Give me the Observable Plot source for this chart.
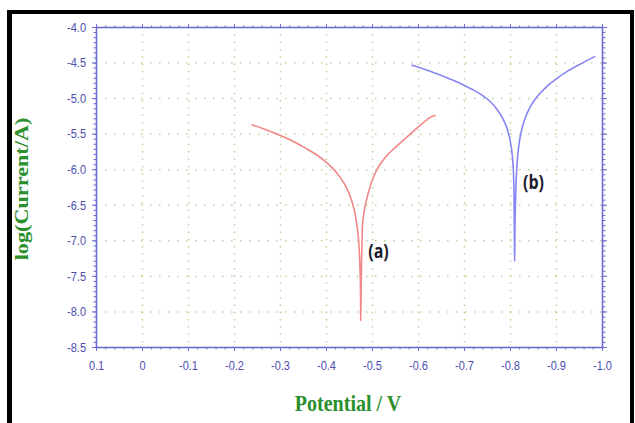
<!DOCTYPE html>
<html><head><meta charset="utf-8">
<script src="https://cdn.jsdelivr.net/npm/d3@7"></script>
<script src="https://cdn.jsdelivr.net/npm/@observablehq/plot@0.6"></script>
<style>
html,body{margin:0;padding:0;background:#fff;}
#wrap{position:relative;width:635px;height:423px;overflow:hidden;background:#fff;}
#border{position:absolute;left:7px;top:10px;width:618px;height:430px;border-left:5px solid #000;border-top:4px solid #000;border-right:4px solid #000;pointer-events:none;}
.ttl{position:absolute;font-family:"Liberation Serif","Times New Roman",serif;font-weight:bold;color:#2b8f2b;white-space:nowrap;line-height:1;}
#xt{left:348px;top:403px;font-size:20px;transform:translate(-50%,-50%) scaleY(1.2);}
#yt{left:22px;top:189px;font-size:18.5px;transform:translate(-50%,-50%) rotate(-90deg) scaleX(1.2);}
#chart{position:absolute;left:0;top:0;}
</style>
</head><body>
<div id="wrap">
  <div id="chart"></div>
  <div class="ttl" id="xt">Potential / V</div>
  <div class="ttl" id="yt">log(Current/A)</div>
  <div id="border"></div>
</div>
<script>
// Tick values and labels
const xMajor = [0.1, 0, -0.1, -0.2, -0.3, -0.4, -0.5, -0.6, -0.7, -0.8, -0.9, -1.0];
const xTickLabels = ["0.1","0","-0.1","-0.2","-0.3","-0.4","-0.5","-0.6","-0.7","-0.8","-0.9","-1.0"];
const yMajor = [-4.0, -4.5, -5.0, -5.5, -6.0, -6.5, -7.0, -7.5, -8.0, -8.5];
const yTickLabels = ["-4.0","-4.5","-5.0","-5.5","-6.0","-6.5","-7.0","-7.5","-8.0","-8.5"];

// Curve (a)
const potA = [-0.2385,-0.27,-0.30,-0.33,-0.358,-0.3783,-0.3967,-0.4126,-0.4261,-0.4376,-0.4470,-0.4543,-0.4600,-0.4641,-0.4674,-0.4698,-0.4717,-0.4730,-0.4739,-0.4743,
  -0.4752,-0.4763,-0.4776,-0.4787,-0.4811,-0.4843,-0.4885,-0.4935,-0.4993,-0.5076,-0.5174,-0.5304,-0.5463,-0.5826,-0.6261,-0.6354];
const logA = [-5.37,-5.44,-5.52,-5.61,-5.71,-5.789,-5.879,-5.974,-6.076,-6.185,-6.303,-6.429,-6.558,-6.690,-6.841,-6.995,-7.206,-7.417,-7.656,-8.12,
  -7.698,-7.277,-6.901,-6.742,-6.620,-6.503,-6.386,-6.264,-6.151,-6.025,-5.917,-5.807,-5.706,-5.495,-5.261,-5.238];

// Curve (b)
const potB = [-0.586,-0.610,-0.632,-0.655,-0.678,-0.700,-0.720,-0.738,-0.754,-0.767,-0.778,-0.787,-0.794,-0.799,-0.8025,-0.805,-0.8065,-0.8075,-0.808,-0.8085,-0.809,
  -0.8095,-0.810,-0.811,-0.8125,-0.8145,-0.817,-0.8205,-0.825,-0.831,-0.838,-0.847,-0.858,-0.871,-0.886,-0.904,-0.925,-0.950,-0.983];
const logB = [-4.53,-4.58,-4.632,-4.688,-4.75,-4.815,-4.88,-4.95,-5.03,-5.12,-5.22,-5.33,-5.45,-5.58,-5.72,-5.88,-6.05,-6.30,-6.60,-6.95,-7.29,
  -7.00,-6.70,-6.40,-6.12,-5.90,-5.72,-5.56,-5.42,-5.29,-5.18,-5.07,-4.97,-4.88,-4.79,-4.70,-4.61,-4.52,-4.41];

const curveLabels = ["(a)", "(b)"];
const labelPot = [-0.513, -0.850];
const labelLog = [-7.16, -6.19];

const dataA = potA.map((e, i) => ({E: e, logI: logA[i]}));
const dataB = potB.map((e, i) => ({E: e, logI: logB[i]}));
const labels = curveLabels.map((t, i) => ({t, E: labelPot[i], logI: labelLog[i]}));

const xMinor = d3.range(0, 56).map(i => +(0.1 - i * 0.02).toFixed(4));
const yMinor = d3.range(0, 64).map(i => -4.0 - i * 0.5 / 7);

const fmt = (vals, labs) => d => { const k = vals.findIndex(v => Math.abs(v - d) < 1e-9); return k < 0 ? "" : labs[k]; };

const axisCol = "#6c6cd2";
const gridCol = "#b9cd90";

const chart = Plot.plot({
  width: 635, height: 423,
  marginLeft: 96, marginRight: 33, marginTop: 27, marginBottom: 76,
  x: {domain: [0.1, -1.0]},
  y: {domain: [-8.5, -4.0]},
  style: {fontFamily: "'Liberation Sans', Arial, sans-serif", fontSize: "11px", color: "#4d4dae", background: "transparent"},
  marks: [
    Plot.gridX(xMajor.slice(1, -1), {stroke: gridCol, strokeOpacity: 0.9, strokeWidth: 1.5, strokeDasharray: "1.5,5.8"}),
    Plot.gridY(yMajor.slice(1, -1), {stroke: gridCol, strokeOpacity: 0.9, strokeWidth: 1.5, strokeDasharray: "1.5,7.5"}),
    Plot.axisX(xMinor, {anchor: "bottom", tickSize: 2.5, text: null, stroke: axisCol, label: null}),
    Plot.axisX(xMajor, {anchor: "bottom", tickSize: 4, tickPadding: 9, tickFormat: fmt(xMajor, xTickLabels), stroke: axisCol, label: null}),
    Plot.axisX(xMinor, {anchor: "top", tickSize: 2.5, text: null, stroke: axisCol, label: null}),
    Plot.axisX(xMajor, {anchor: "top", tickSize: 4, text: null, stroke: axisCol, label: null}),
    Plot.axisY(yMinor, {anchor: "left", tickSize: 2.5, text: null, stroke: axisCol, label: null}),
    Plot.axisY(yMajor, {anchor: "left", tickSize: 4, tickPadding: 6.5, tickFormat: fmt(yMajor, yTickLabels), stroke: axisCol, label: null}),
    Plot.axisY(yMinor, {anchor: "right", tickSize: 2.5, text: null, stroke: axisCol, label: null}),
    Plot.axisY(yMajor, {anchor: "right", tickSize: 4, text: null, stroke: axisCol, label: null}),
    Plot.frame({stroke: axisCol, strokeWidth: 1.6}),
    Plot.line(dataA, {x: "E", y: "logI", stroke: "#f38686", strokeWidth: 1.6, curve: "catmull-rom"}),
    Plot.line(dataB, {x: "E", y: "logI", stroke: "#8686f3", strokeWidth: 1.6, curve: "catmull-rom"}),
    Plot.text(labels, {x: "E", y: "logI", text: "t", fontSize: 16, fontWeight: "bold", fill: "#1c1c2c", fontFamily: "'Open Sans', sans-serif"})
  ]
});

chart.querySelectorAll("text").forEach(t => {
  const tr = t.getAttribute("transform");
  if (tr) t.setAttribute("transform", tr + " scale(1,1.2)");
  else {
    const x = +t.getAttribute("x") || 0, y = +t.getAttribute("y") || 0;
    t.setAttribute("transform", `translate(${x},${y}) scale(1,1.2) translate(${-x},${-y})`);
  }
});

document.getElementById("chart").appendChild(chart);
</script>
</body></html>
